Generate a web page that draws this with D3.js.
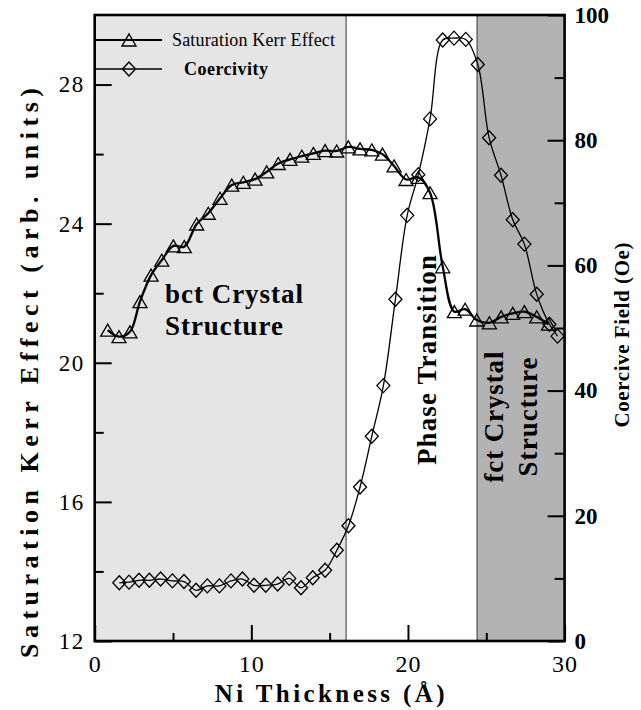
<!DOCTYPE html>
<html>
<head>
<meta charset="utf-8">
<script src="https://cdn.jsdelivr.net/npm/d3@7"></script>
<style>
  body { margin: 0; background: #fff; }
  svg { display: block; }
  text { font-family: "Liberation Serif", "Times New Roman", serif; fill: #000; }
</style>
</head>
<body>
<svg id="chart" width="641" height="710"></svg>
<script>
// Saturation Kerr effect (arb. units) vs Ni thickness (Å)
const kerrX = [0.83, 1.55, 2.25, 2.89, 3.60, 4.28, 5.02, 5.72, 6.51, 7.25, 8.00, 8.75, 9.49, 10.24,
  10.98, 11.72, 12.47, 13.22, 13.96, 14.71, 15.45, 16.19, 16.94, 17.69, 18.37, 19.11, 19.88, 20.66,
  21.41, 22.22, 22.96, 23.65, 24.39, 25.20, 25.95, 26.69, 27.43, 28.22, 28.97];
const kerrY = [20.94, 20.75, 20.89, 21.76, 22.52, 22.95, 23.36, 23.34, 23.99, 24.30, 24.73, 25.11,
  25.19, 25.28, 25.49, 25.73, 25.85, 25.94, 26.02, 26.10, 26.09, 26.21, 26.15, 26.12, 26.00, 25.66,
  25.27, 25.33, 24.89, 22.76, 21.47, 21.54, 21.23, 21.15, 21.32, 21.42, 21.47, 21.32, 21.11];

// Coercive field (Oe) vs Ni thickness (Å)
const coerX = [1.57, 2.19, 2.83, 3.49, 4.21, 4.96, 5.70, 6.47, 7.19, 7.96, 8.70, 9.43, 10.17, 10.92,
  11.68, 12.42, 13.17, 13.92, 14.71, 15.46, 16.20, 16.94, 17.69, 18.43, 19.20, 19.95, 20.66, 21.41,
  22.22, 22.94, 23.69, 24.46, 25.18, 25.94, 26.69, 27.43, 28.22, 29.03, 29.55];
const coerY = [9.3, 9.4, 9.7, 9.7, 9.9, 9.6, 9.5, 8.1, 8.8, 8.8, 9.6, 9.9, 8.9, 8.9, 9.1, 10.0, 8.5,
  10.1, 11.3, 14.5, 18.4, 24.6, 32.7, 40.8, 54.6, 68.0, 74.5, 83.4, 96.0, 96.3, 96.1, 92.1, 80.4,
  74.4, 67.3, 63.4, 55.4, 50.6, 48.7];

// Structural regions along the thickness axis
const regionStarts = [0, 16.05, 24.41];
const regionEnds = [16.05, 24.41, 30];
const regionFills = ["#e5e5e5", "#ffffff", "#b3b3b3"];

// Axis ticks
const xMajorTicks = [0, 10, 20, 30];
const xMinorTicks = [5, 15, 25];
const yLeftMajor = [12, 16, 20, 24, 28];
const yLeftMinor = [14, 18, 22, 26];
const yRightMajor = [0, 20, 40, 60, 80, 100];
const yRightMinor = [10, 30, 50, 70, 90];

const svg = d3.select("#chart");
const x = d3.scaleLinear().domain([0, 30]).range([94.7, 564.6]);
const yL = d3.scaleLinear().domain([12, 30]).range([641, 15]);
const yR = d3.scaleLinear().domain([0, 100]).range([641, 15]);

// background regions
svg.append("g").selectAll("rect")
  .data(regionStarts.map((s, i) => ({ s, e: regionEnds[i], f: regionFills[i] })))
  .join("rect")
  .attr("x", d => x(d.s)).attr("width", d => x(d.e) - x(d.s))
  .attr("y", yL(30)).attr("height", yL(12) - yL(30))
  .attr("fill", d => d.f);

svg.append("g").selectAll("line")
  .data([regionEnds[0], regionEnds[1]])
  .join("line")
  .attr("x1", d => x(d)).attr("x2", d => x(d))
  .attr("y1", yL(30)).attr("y2", yL(12))
  .attr("stroke", "#333").attr("stroke-width", 1);

// annotations
const bold = sel => sel.attr("font-weight", "bold");
svg.append("text").attr("x", 165).attr("y", 303).attr("font-size", 27)
  .attr("textLength", 138).attr("lengthAdjust", "spacing").call(bold).text("bct Crystal");
svg.append("text").attr("x", 165).attr("y", 335).attr("font-size", 27)
  .attr("textLength", 118).attr("lengthAdjust", "spacing").call(bold).text("Structure");

function vText(cx, cy, len, size, str) {
  svg.append("text")
    .attr("transform", `translate(${cx},${cy}) rotate(-90)`)
    .attr("text-anchor", "middle").attr("font-size", size)
    .attr("textLength", len).attr("lengthAdjust", "spacing")
    .call(bold).text(str);
}
vText(436, 360, 210, 27, "Phase Transition");
vText(503, 417, 131, 27, "fct Crystal");
vText(537, 417, 119, 27, "Structure");

// axes
function styleAxis(g) {
  g.select(".domain").remove();
  g.selectAll(".tick line").attr("stroke", "#000").attr("stroke-width", 2);
}
const plotH = yL(12);
svg.append("g").attr("transform", `translate(0,${plotH})`)
  .call(d3.axisBottom(x).tickValues(xMajorTicks).tickSize(-16).tickPadding(14).tickFormat(d3.format("d")))
  .call(styleAxis)
  .call(g => g.selectAll("text").attr("font-size", 24).attr("font-family", "Liberation Serif").attr("letter-spacing", 1));
svg.append("g").attr("transform", `translate(0,${plotH})`)
  .call(d3.axisBottom(x).tickValues(xMinorTicks).tickSize(-8).tickFormat(""))
  .call(styleAxis);

svg.append("g").attr("transform", `translate(${x(0)},0)`)
  .call(d3.axisLeft(yL).tickValues(yLeftMajor).tickSize(-17).tickPadding(10).tickFormat(d3.format("d")))
  .call(styleAxis)
  .call(g => g.selectAll("text").attr("font-size", 23).attr("font-family", "Liberation Serif").attr("letter-spacing", 1.5));
svg.append("g").attr("transform", `translate(${x(0)},0)`)
  .call(d3.axisLeft(yL).tickValues(yLeftMinor).tickSize(-9).tickFormat(""))
  .call(styleAxis);

svg.append("g").attr("transform", `translate(${x(30)},0)`)
  .call(d3.axisRight(yR).tickValues(yRightMajor).tickSize(-17).tickPadding(10).tickFormat(d3.format("d")))
  .call(styleAxis)
  .call(g => g.selectAll("text").attr("font-size", 23).attr("font-weight", "bold").attr("font-family", "Liberation Serif"));
svg.append("g").attr("transform", `translate(${x(30)},0)`)
  .call(d3.axisRight(yR).tickValues(yRightMinor).tickSize(-10).tickFormat(""))
  .call(styleAxis);

// frame
svg.append("rect")
  .attr("x", x(0)).attr("y", yL(30))
  .attr("width", x(30) - x(0)).attr("height", yL(12) - yL(30))
  .attr("fill", "none").attr("stroke", "#000").attr("stroke-width", 2.6);

// axis titles
svg.append("text")
  .attr("transform", `translate(${(x(0) + x(30)) / 2},702)`)
  .attr("text-anchor", "middle").attr("font-size", 25)
  .attr("textLength", 230).attr("lengthAdjust", "spacing")
  .call(bold).text("Ni Thickness (Å)");
svg.append("text")
  .attr("transform", `translate(38,373) rotate(-90)`)
  .attr("text-anchor", "middle").attr("font-size", 26)
  .attr("textLength", 570).attr("lengthAdjust", "spacing")
  .call(bold).text("Saturation Kerr Effect (arb. units)");
svg.append("text")
  .attr("transform", `translate(629,335) rotate(-90)`)
  .attr("text-anchor", "middle").attr("font-size", 21)
  .attr("textLength", 185).attr("lengthAdjust", "spacing")
  .call(bold).text("Coercive Field (Oe)");

// marker shapes
const triPath = "M0,-6L7,6L-7,6Z";
const diaPath = "M0,-7L6.5,0L0,7L-6.5,0Z";

// series
const kerr = kerrX.map((v, i) => [v, kerrY[i]]);
const coer = coerX.map((v, i) => [v, coerY[i]]);

svg.append("path").datum(coer)
  .attr("fill", "none").attr("stroke", "#000").attr("stroke-width", 1.3)
  .attr("d", d3.line().x(d => x(d[0])).y(d => yR(d[1])).curve(d3.curveCatmullRom.alpha(0.5)));
svg.append("path").datum(kerr)
  .attr("fill", "none").attr("stroke", "#000").attr("stroke-width", 2.3)
  .attr("d", d3.line().x(d => x(d[0])).y(d => yL(d[1])).curve(d3.curveCatmullRom.alpha(0.5)));

svg.append("g").selectAll("path").data(kerr).join("path")
  .attr("transform", d => `translate(${x(d[0])},${yL(d[1])})`)
  .attr("d", triPath).attr("fill", "none").attr("stroke", "#000").attr("stroke-width", 1.3);
svg.append("g").selectAll("path").data(coer).join("path")
  .attr("transform", d => `translate(${x(d[0])},${yR(d[1])})`)
  .attr("d", diaPath).attr("fill", "none").attr("stroke", "#000").attr("stroke-width", 1.3);

// legend
const legend = svg.append("g");
const legendRows = [
  { y: 40, shape: triPath, label: "Saturation Kerr Effect", tx: 172, len: 163, weight: "normal" },
  { y: 69, shape: diaPath, label: "Coercivity", tx: 184, len: 84, weight: "bold" }
];
legendRows.forEach(r => {
  legend.append("line").attr("x1", x(0)).attr("x2", 162).attr("y1", r.y).attr("y2", r.y)
    .attr("stroke", "#000").attr("stroke-width", r.weight === "bold" ? 1.3 : 2);
  legend.append("path").attr("d", r.shape).attr("transform", `translate(129,${r.y})`)
    .attr("fill", "none").attr("stroke", "#000").attr("stroke-width", 1.4);
  legend.append("text").attr("x", r.tx).attr("y", r.y + 6).attr("font-size", 18)
    .attr("font-weight", r.weight).attr("textLength", r.len).attr("lengthAdjust", "spacing")
    .text(r.label);
});
</script>
</body>
</html>
